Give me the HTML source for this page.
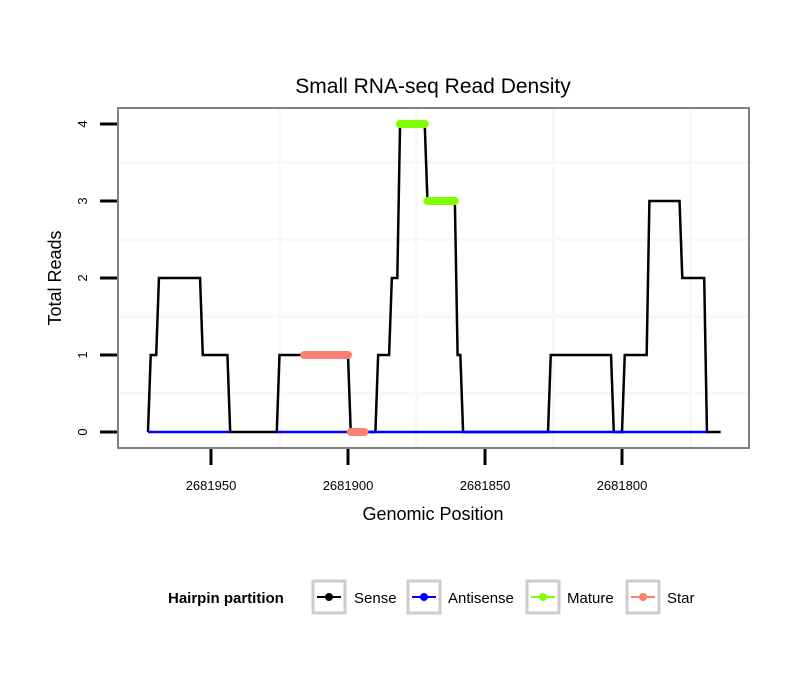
<!DOCTYPE html>
<html><head><meta charset="utf-8"><style>
body{margin:0;background:#fff;font-family:"Liberation Sans",sans-serif}
</style></head><body>
<svg id="chart" width="810" height="690" xmlns="http://www.w3.org/2000/svg" font-family="Liberation Sans, sans-serif">
<rect width="810" height="690" fill="#fff"/>
<text x="433" y="93" font-size="21" text-anchor="middle">Small RNA-seq Read Density</text>
<g id="grid"></g>
<g id="series"></g>
<rect x="118" y="108" width="631" height="340" fill="none" stroke="#808080" stroke-width="2"/>
<g id="axes"></g>
<text x="433" y="520" font-size="18" text-anchor="middle">Genomic Position</text>
<text transform="translate(61,278) rotate(-90)" font-size="18" text-anchor="middle">Total Reads</text>
<g font-size="15">
<text x="168" y="603" font-weight="bold">Hairpin partition</text>
<g><rect x="313" y="581" width="32" height="32" fill="#fff" stroke="#ccc" stroke-width="3"/><line x1="317" y1="597" x2="341" y2="597" stroke="#000" stroke-width="2"/><circle cx="329" cy="597" r="4" fill="#000"/><text x="354" y="603">Sense</text></g>
<g><rect x="408" y="581" width="32" height="32" fill="#fff" stroke="#ccc" stroke-width="3"/><line x1="412" y1="597" x2="436" y2="597" stroke="#00f" stroke-width="2"/><circle cx="424" cy="597" r="4" fill="#00f"/><text x="448" y="603">Antisense</text></g>
<g><rect x="527" y="581" width="32" height="32" fill="#fff" stroke="#ccc" stroke-width="3"/><line x1="531" y1="597" x2="555" y2="597" stroke="#7fff00" stroke-width="2"/><circle cx="543" cy="597" r="4" fill="#7fff00"/><text x="567" y="603">Mature</text></g>
<g><rect x="627" y="581" width="32" height="32" fill="#fff" stroke="#ccc" stroke-width="3"/><line x1="631" y1="597" x2="655" y2="597" stroke="#fa8072" stroke-width="2"/><circle cx="643" cy="597" r="4" fill="#fa8072"/><text x="667" y="603">Star</text></g>
</g>
</svg>
<script>
const xTicks=[2681950,2681900,2681850,2681800];
const yTicks=[0,1,2,3,4];
const sensePos=[2681973,2681972,2681970,2681969,2681954,2681953,2681944,2681943,2681926,2681925,2681900,2681899,2681890,2681889,2681885,2681884,2681882,2681881,2681872,2681871,2681861,2681860,2681859,2681858,2681827,2681826,2681804,2681803,2681800,2681799,2681791,2681790,2681779,2681778,2681770,2681769,2681764];
const senseVal=[0,1,1,2,2,1,1,0,0,1,1,0,0,1,1,2,2,4,4,3,3,1,1,0,0,1,1,0,0,1,1,3,3,2,2,0,0];
const antisenseRanges=[[2681973,2681943],[2681926,2681769]];
const matureRanges=[[2681881,2681872,4],[2681871,2681861,3]];
const starRanges=[[2681916,2681900,1],[2681899,2681894,0]];
const X=p=>211+(2681950-p)*2.74;
const Y=v=>432-v*77;
const NS='http://www.w3.org/2000/svg';
function mk(tag,parent,attrs){const e=document.createElementNS(NS,tag);for(const k in attrs)e.setAttribute(k,attrs[k]);document.getElementById(parent).appendChild(e);return e;}
// grid (at half-step positions)
xTicks.forEach(t=>{const g=mk('line','grid',{x1:X(t-25),x2:X(t-25),y1:109,y2:447,stroke:'#f8f8f8','stroke-width':3});});
yTicks.slice(0,4).forEach(t=>{const g=mk('line','grid',{x1:119,x2:748,y1:Y(t+0.5),y2:Y(t+0.5),stroke:'#f8f8f8','stroke-width':3});});
// axes ticks
xTicks.forEach(t=>{const l=mk('line','axes',{x1:X(t),x2:X(t),y1:449,y2:465,stroke:'#000','stroke-width':3});
const tx=mk('text','axes',{x:X(t),y:490,'font-size':13,'text-anchor':'middle'});tx.textContent=t;});
yTicks.forEach(t=>{const l=mk('line','axes',{x1:100,x2:117,y1:Y(t),y2:Y(t),stroke:'#000','stroke-width':3});
const tx=mk('text','axes',{transform:`translate(87,${Y(t)}) rotate(-90)`,'font-size':13,'text-anchor':'middle'});tx.textContent=t;});
// sense line
const sp=mk('polyline','series',{points:sensePos.map((p,i)=>X(p)+','+Y(senseVal[i])).join(' '),fill:'none',stroke:'#000','stroke-width':2.5});


antisenseRanges.forEach(r=>{const l=mk('line','series',{x1:X(r[0]),x2:X(r[1]),y1:Y(0),y2:Y(0),stroke:'#00f','stroke-width':2.5});});
matureRanges.forEach(r=>{const l=mk('line','series',{x1:X(r[0]),x2:X(r[1]),y1:Y(r[2]),y2:Y(r[2]),stroke:'#7fff00','stroke-width':8,'stroke-linecap':'round'});});
starRanges.forEach(r=>{const l=mk('line','series',{x1:X(r[0]),x2:X(r[1]),y1:Y(r[2]),y2:Y(r[2]),stroke:'#fa8072','stroke-width':8,'stroke-linecap':'round'});});
</script>
</body></html>
